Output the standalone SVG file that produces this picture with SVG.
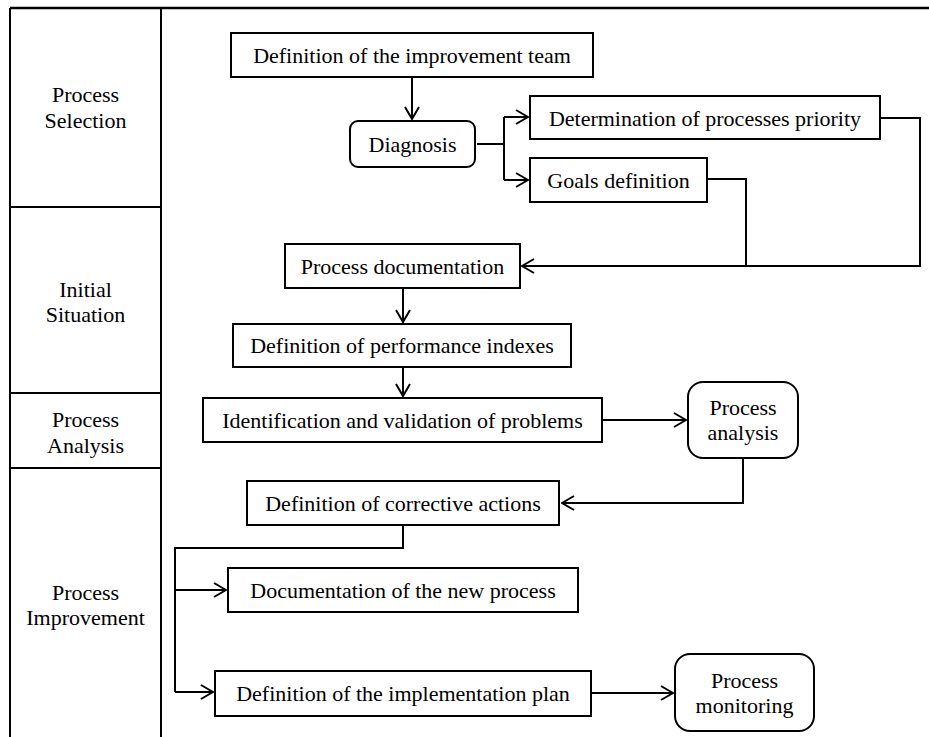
<svg xmlns="http://www.w3.org/2000/svg" width="929" height="737" viewBox="0 0 929 737">
<style>
  .box{fill:#fff;stroke:#000;stroke-width:2}
  .lane{fill:none;stroke:#000;stroke-width:2}
  .t{font-family:"Liberation Serif","Times New Roman",serif;font-size:22px;fill:#000;text-anchor:middle}
  .c{fill:none;stroke:#000;stroke-width:2}
  .a{marker-end:url(#arr)}
</style>
<defs>
  <marker id="arr" viewBox="0 0 14 16" refX="13" refY="8" markerWidth="14" markerHeight="16" markerUnits="userSpaceOnUse" orient="auto">
    <path d="M1,1 L13,8 L1,15" fill="none" stroke="#000" stroke-width="2"/>
  </marker>
</defs>
<rect width="929" height="737" fill="#fff"/>

<g id="lanes">
  <line x1="10" y1="8" x2="929" y2="8" stroke="#000" stroke-width="2.5"/>
  <line class="lane" x1="10" y1="8" x2="10" y2="737"/>
  <line class="lane" x1="161" y1="8" x2="161" y2="737"/>
  <line class="lane" x1="10" y1="207" x2="161" y2="207"/>
  <line class="lane" x1="10" y1="393" x2="161" y2="393"/>
  <line class="lane" x1="10" y1="468" x2="161" y2="468"/>
  <g id="lane-selection"><text class="t" x="85.5" y="102">Process</text><text class="t" x="85.5" y="128">Selection</text></g>
  <g id="lane-initial"><text class="t" x="85.5" y="297">Initial</text><text class="t" x="85.5" y="322">Situation</text></g>
  <g id="lane-analysis"><text class="t" x="85.5" y="427">Process</text><text class="t" x="85.5" y="453">Analysis</text></g>
  <g id="lane-improvement"><text class="t" x="85.5" y="600">Process</text><text class="t" x="85.5" y="625">Improvement</text></g>
</g>

<g id="connectors">
  <path class="c a" d="M412,77 V119"/>
  <path class="c" d="M477,144 H504 M504,117 V180"/>
  <path class="c a" d="M504,117 H528"/>
  <path class="c a" d="M504,180 H528"/>
  <path class="c a" d="M880,118 H920 V266 H522"/>
  <path class="c" d="M707,179 H746 V266"/>
  <path class="c a" d="M403,288 V322"/>
  <path class="c a" d="M403,367 V396"/>
  <path class="c a" d="M602,420 H686"/>
  <path class="c a" d="M743,458 V503 H562"/>
  <path class="c" d="M403,525 V548 H175 V692"/>
  <path class="c a" d="M175,590 H226"/>
  <path class="c a" d="M175,692 H213"/>
  <path class="c a" d="M591,693 H673"/>
</g>

<g id="n-team"><rect class="box" x="231" y="33" width="362" height="44"/><text class="t" x="412" y="63">Definition of the improvement team</text></g>
<g id="n-diagnosis"><rect class="box" x="350" y="121" width="125" height="46" rx="8"/><text class="t" x="412.5" y="152">Diagnosis</text></g>
<g id="n-priority"><rect class="box" x="530" y="96" width="350" height="43"/><text class="t" x="705" y="126">Determination of processes priority</text></g>
<g id="n-goals"><rect class="box" x="530" y="158" width="177" height="44"/><text class="t" x="618.5" y="188">Goals definition</text></g>
<g id="n-doc"><rect class="box" x="285" y="244" width="235" height="44"/><text class="t" x="402.5" y="274">Process documentation</text></g>
<g id="n-perf"><rect class="box" x="233" y="324" width="338" height="43"/><text class="t" x="402" y="353">Definition of performance indexes</text></g>
<g id="n-ident"><rect class="box" x="203" y="398" width="399" height="44"/><text class="t" x="402.5" y="428">Identification and validation of problems</text></g>
<g id="n-analysis"><rect class="box" x="688" y="382" width="110" height="76" rx="15"/><text class="t" x="743" y="415">Process</text><text class="t" x="743" y="440">analysis</text></g>
<g id="n-corrective"><rect class="box" x="247" y="481" width="312" height="44"/><text class="t" x="403" y="511">Definition of corrective actions</text></g>
<g id="n-newdoc"><rect class="box" x="228" y="568" width="350" height="44"/><text class="t" x="403" y="598">Documentation of the new process</text></g>
<g id="n-plan"><rect class="box" x="215" y="671" width="376" height="45"/><text class="t" x="403" y="701">Definition of the implementation plan</text></g>
<g id="n-monitoring"><rect class="box" x="675" y="654" width="139" height="77" rx="15"/><text class="t" x="744.5" y="688">Process</text><text class="t" x="744.5" y="713">monitoring</text></g>
</svg>
